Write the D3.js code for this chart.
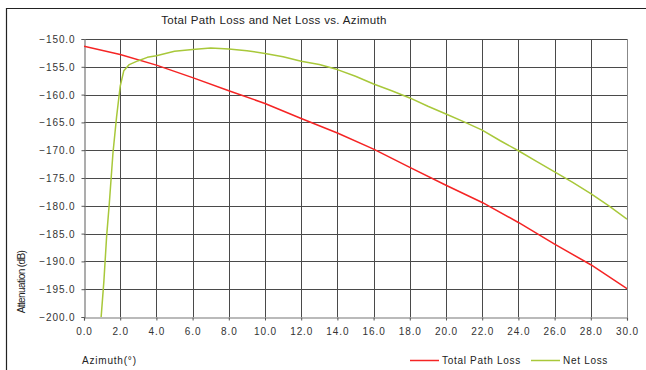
<!DOCTYPE html>
<html>
<head>
<meta charset="utf-8">
<script src="https://cdn.jsdelivr.net/npm/d3@7"></script>
<style>
  html, body { margin: 0; padding: 0; background: #fff; }
  svg { display: block; font-family: "Liberation Sans", Arial, sans-serif; }
</style>
</head>
<body>
<svg id="chart" width="646" height="370"></svg>
<script>
// Azimuth (degrees) and attenuation (dB) for each series
const pathLossAz = [0, 2, 4, 6, 8, 10, 12, 14, 16, 18, 20, 22, 24, 26, 28, 30];
const pathLossDb = [-151.3, -152.8, -154.7, -156.95, -159.3, -161.6, -164.3, -166.9, -169.8, -173.1, -176.3, -179.4, -183.0, -186.9, -190.6, -194.9];

const netLossAz = [0.9, 1.1, 1.25, 1.4, 1.6, 1.8, 2.0, 2.2, 2.5, 3.0, 3.5, 4, 5, 6, 7, 8, 9, 10, 11, 12, 13, 14, 15, 16, 17, 18, 19, 20, 21, 22, 23, 24, 25, 26, 27, 28, 29, 30];
const netLossDb = [-202, -193.5, -185.5, -179.5, -170.5, -164, -158.5, -155.7, -154.6, -153.9, -153.3, -153.0, -152.2, -151.9, -151.6, -151.8, -152.1, -152.6, -153.2, -154.0, -154.6, -155.5, -156.7, -158.1, -159.3, -160.6, -162.1, -163.5, -164.9, -166.4, -168.3, -170.1, -172.0, -173.9, -175.8, -177.8, -180.0, -182.4];

const xTicks = d3.range(0, 30.001, 2);
const yTicks = d3.range(-200, -149.999, 5);

const seriesNames = ["Total Path Loss", "Net Loss"];
const seriesColors = ["#f52424", "#a8c83a"];

const svg = d3.select("#chart");
const plot = { left: 84, top: 39, right: 627, bottom: 317 };

const x = d3.scaleLinear().domain([0, 30]).range([plot.left, plot.right]);
const y = d3.scaleLinear().domain([-200, -150]).range([plot.bottom, plot.top]);

// outer frame (top and left edges visible)
svg.append("path")
  .attr("d", "M6.5,370 V8.5 H646")
  .attr("fill", "none").attr("stroke", "#222").attr("stroke-width", 1.2);

// title
svg.append("text")
  .attr("x", 274).attr("y", 24)
  .attr("text-anchor", "middle")
  .attr("font-size", 11.5).attr("letter-spacing", 0.35)
  .attr("fill", "#222")
  .text("Total Path Loss and Net Loss vs. Azimuth");

// gridlines
const grid = svg.append("g").attr("stroke", "#4a4a4a").attr("stroke-width", 1);
grid.selectAll("line.v").data(xTicks.slice(1, -1)).join("line")
  .attr("x1", d => Math.round(x(d)) + 0.5).attr("x2", d => Math.round(x(d)) + 0.5)
  .attr("y1", plot.top).attr("y2", plot.bottom);
grid.selectAll("line.h").data(yTicks.slice(1)).join("line")
  .attr("y1", d => Math.round(y(d)) + 0.5).attr("y2", d => Math.round(y(d)) + 0.5)
  .attr("x1", plot.left).attr("x2", plot.right);

// plot border (right edge grey)
svg.append("line")
  .attr("x1", plot.right + 0.5).attr("x2", plot.right + 0.5)
  .attr("y1", plot.top).attr("y2", plot.bottom)
  .attr("stroke", "#888");

// axes
const xAxis = svg.append("g")
  .attr("transform", `translate(0,${plot.bottom + 0.5})`)
  .call(d3.axisBottom(x).tickValues(xTicks).tickFormat(d3.format(".1f")).tickSize(3).tickPadding(7));
const yAxis = svg.append("g")
  .attr("transform", `translate(${plot.left + 0.5},0)`)
  .call(d3.axisLeft(y).tickValues(yTicks).tickFormat(d3.format(".1f")).tickSize(3).tickPadding(6));
[xAxis, yAxis].forEach(g => {
  g.select(".domain").attr("stroke", "#777").attr("stroke-width", 1.2);
  g.selectAll(".tick line").attr("stroke", "#555");
  g.selectAll(".tick text")
    .attr("font-family", "Liberation Sans, Arial, sans-serif")
    .attr("font-size", 10).attr("letter-spacing", 0.9).attr("fill", "#333");
});
yAxis.selectAll(".tick text").attr("dy", "0.35em");

// axis titles
svg.append("text")
  .attr("transform", "translate(25,282) rotate(-90)")
  .attr("text-anchor", "middle")
  .attr("font-size", 10).attr("letter-spacing", -0.6).attr("fill", "#222")
  .text("Attenuation (dB)");
svg.append("text")
  .attr("x", 82).attr("y", 364)
  .attr("font-size", 10).attr("letter-spacing", 0.8).attr("fill", "#222")
  .text("Azimuth(°)");

// series lines, clipped to the plot area
svg.append("clipPath").attr("id", "plotClip")
  .append("rect").attr("x", plot.left).attr("y", plot.top)
  .attr("width", plot.right - plot.left).attr("height", plot.bottom - plot.top);

const line = d3.line().x(d => x(d[0])).y(d => y(d[1]));
const series = [
  d3.zip(pathLossAz, pathLossDb),
  d3.zip(netLossAz, netLossDb)
];
svg.append("g").attr("clip-path", "url(#plotClip)")
  .selectAll("path").data(series).join("path")
  .attr("d", line)
  .attr("fill", "none")
  .attr("stroke", (d, i) => seriesColors[i])
  .attr("stroke-width", 1.5)
  .attr("stroke-linejoin", "round");

// legend
const legendX = [410, 531];
const legend = svg.append("g");
seriesNames.forEach((name, i) => {
  legend.append("line")
    .attr("x1", legendX[i]).attr("x2", legendX[i] + 29)
    .attr("y1", 360.5).attr("y2", 360.5)
    .attr("stroke", seriesColors[i]).attr("stroke-width", 1.5);
  legend.append("text")
    .attr("x", legendX[i] + 32).attr("y", 364)
    .attr("font-size", 10).attr("letter-spacing", 0.7).attr("fill", "#222")
    .text(name);
});
</script>
</body>
</html>
